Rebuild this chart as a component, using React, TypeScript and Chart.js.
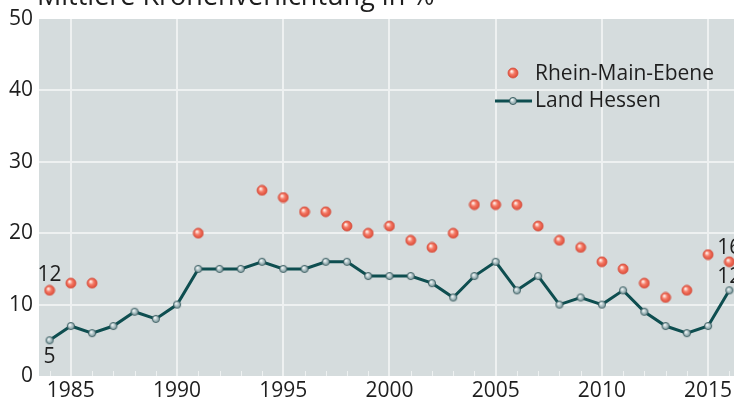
import React, { useEffect, useRef } from 'react';
import { Chart, registerables } from 'chart.js';

Chart.register(...registerables);

const titleText = 'Mittlere Kronenverlichtung in %';
const years = [1984, 1985, 1986, 1987, 1988, 1989, 1990, 1991, 1992, 1993, 1994, 1995, 1996, 1997, 1998, 1999, 2000, 2001, 2002, 2003, 2004, 2005, 2006, 2007, 2008, 2009, 2010, 2011, 2012, 2013, 2014, 2015, 2016];
const hessen = [5, 7, 6, 7, 9, 8, 10, 15, 15, 15, 16, 15, 15, 16, 16, 14, 14, 14, 13, 11, 14, 16, 12, 14, 10, 11, 10, 12, 9, 7, 6, 7, 12];
const rheinMain = [12, 13, 13, null, null, null, null, 20, null, null, 26, 25, 23, 23, 21, 20, 21, 19, 18, 20, 24, 24, 24, 21, 19, 18, 16, 15, 13, 11, 12, 17, 16];
const seriesNames = ['Rhein-Main-Ebene', 'Land Hessen'];
const yTicks = [0, 10, 20, 30, 40, 50];

const FONT = "'Open Sans', 'Noto Sans', sans-serif";
const TEXT = '#1e1e1e';
const LINE = '#0e4e50';

function makeSphere(r: number, light: string, mid: string, dark: string, stroke: string) {
  const size = Math.ceil(r * 2 + 2);
  const c = document.createElement('canvas');
  c.width = size;
  c.height = size;
  const g = c.getContext('2d')!;
  const cx = size / 2, cy = size / 2;
  const grad = g.createRadialGradient(cx - r * 0.3, cy - r * 0.35, r * 0.1, cx, cy, r);
  grad.addColorStop(0, light);
  grad.addColorStop(0.45, mid);
  grad.addColorStop(1, dark);
  g.beginPath();
  g.arc(cx, cy, r, 0, Math.PI * 2);
  g.fillStyle = grad;
  g.fill();
  g.lineWidth = 0.8;
  g.strokeStyle = stroke;
  g.stroke();
  return c;
}

export default function App() {
  const ref = useRef<HTMLCanvasElement | null>(null);

  useEffect(() => {
    const canvas = ref.current;
    if (!canvas) return;
    const redDot = makeSphere(5, '#fff2ec', '#f57a66', '#dc4a36', '#d65040');
    const blueDot = makeSphere(3.6, '#f4f8f8', '#b6c9cc', '#7a9599', '#2f5357');

    const decor = {
      id: 'decor',
      beforeDraw(chart: any) {
        const { ctx, chartArea: a } = chart;
        ctx.save();
        ctx.fillStyle = '#d5dcdd';
        ctx.fillRect(a.left, a.top, a.right - a.left, a.bottom - a.top);
        ctx.restore();
      },
      beforeDatasetsDraw(chart: any) {
        const { ctx, chartArea: a } = chart;
        const xs = chart.scales.x;
        ctx.save();
        ctx.strokeStyle = '#eef1f1';
        ctx.lineWidth = 1;
        years.forEach((yr) => {
          const px = Math.round(xs.getPixelForValue(yr)) + 0.5;
          ctx.beginPath();
          ctx.moveTo(px, a.bottom);
          ctx.lineTo(px, a.bottom - 5);
          ctx.stroke();
        });
        ctx.restore();
      },
      afterDraw(chart: any) {
        const { ctx } = chart;
        const xs = chart.scales.x;
        const ys = chart.scales.y;
        ctx.save();
        // title
        ctx.fillStyle = TEXT;
        ctx.font = `27px ${FONT}`;
        ctx.textAlign = 'left';
        ctx.textBaseline = 'alphabetic';
        ctx.fillText(titleText, 37, 5);

        // legend
        ctx.font = `21px ${FONT}`;
        ctx.textBaseline = 'middle';
        ctx.drawImage(redDot, 513 - redDot.width / 2, 73 - redDot.height / 2);
        ctx.fillText(seriesNames[0], 535, 74);
        ctx.strokeStyle = LINE;
        ctx.lineWidth = 3;
        ctx.beginPath();
        ctx.moveTo(495, 101);
        ctx.lineTo(532, 101);
        ctx.stroke();
        ctx.drawImage(blueDot, 513 - blueDot.width / 2, 101 - blueDot.height / 2);
        ctx.fillText(seriesNames[1], 535, 101);

        // data labels at first and last points
        ctx.textAlign = 'center';
        ctx.font = `21px ${FONT}`;
        const first = 0;
        const last = years.length - 1;
        const lab = (i: number, v: number | null, dy: number) => {
          if (v == null) return;
          ctx.fillText(String(v), xs.getPixelForValue(years[i]), ys.getPixelForValue(v) + dy);
        };
        lab(first, rheinMain[first], -15);
        lab(first, hessen[first], 17);
        lab(last, rheinMain[last], -14);
        lab(last, hessen[last], -13);
        ctx.restore();
      },
    };

    const chart = new Chart(canvas, {
      type: 'line',
      data: {
        datasets: [
          {
            label: seriesNames[1],
            data: years.map((y, i) => ({ x: y, y: hessen[i] })),
            borderColor: LINE,
            borderWidth: 3,
            pointStyle: blueDot as any,
            pointRadius: 4,
            tension: 0,
            order: 2,
            clip: false,
          },
          {
            label: seriesNames[0],
            data: years.map((y, i) => ({ x: y, y: rheinMain[i] })) as any,
            showLine: false,
            pointStyle: redDot as any,
            pointRadius: 5,
            order: 1,
            clip: false,
          },
        ],
      },
      options: {
        animation: false,
        responsive: false,
        devicePixelRatio: 1,
        layout: { autoPadding: false, padding: { top: 19, left: 0, right: 0, bottom: 0 } },
        plugins: { legend: { display: false }, tooltip: { enabled: false } },
        elements: { point: { hoverRadius: 5 } },
        scales: {
          x: {
            type: 'linear',
            min: 1983.5,
            max: 2016.22,
            afterBuildTicks: (s: any) => {
              s.ticks = years.map((v) => ({ value: v }));
            },
            afterFit: (s: any) => {
              s.height = 25;
              s.paddingLeft = 0;
              s.paddingRight = 0;
            },
            border: { display: false },
            grid: {
              drawTicks: false,
              lineWidth: 2,
              color: (c: any) => (c.tick && c.tick.value % 5 === 0 ? '#eef1f1' : 'rgba(0,0,0,0)'),
            },
            ticks: {
              autoSkip: false,
              maxRotation: 0,
              padding: 2,
              color: TEXT,
              font: { family: FONT, size: 21 },
              callback: (v: any) => (Number(v) % 5 === 0 ? String(v) : ''),
            },
          },
          y: {
            min: 0,
            max: 50,
            afterBuildTicks: (s: any) => {
              s.ticks = yTicks.map((v) => ({ value: v }));
            },
            afterFit: (s: any) => {
              s.width = 39;
              s.paddingTop = 0;
              s.paddingBottom = 0;
            },
            border: { display: false },
            grid: {
              drawTicks: false,
              lineWidth: 2,
              color: (c: any) => (c.tick && c.tick.value > 0 && c.tick.value < 50 ? '#eef1f1' : 'rgba(0,0,0,0)'),
            },
            ticks: {
              padding: 6,
              color: TEXT,
              font: { family: FONT, size: 21 },
            },
          },
        },
      },
      plugins: [decor],
    } as any);

    return () => chart.destroy();
  }, []);

  return (
    <div style={{ position: 'absolute', left: 0, top: 0, width: 734, height: 401, background: '#fff' }}>
      <canvas ref={ref} width={734} height={401} style={{ display: 'block' }} />
    </div>
  );
}
